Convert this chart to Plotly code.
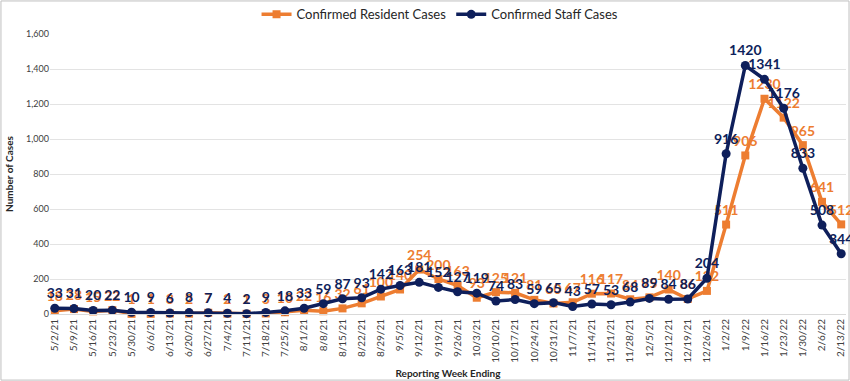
import plotly.graph_objects as go

weeks = ["5/2/21","5/9/21","5/16/21","5/23/21","5/30/21","6/6/21","6/13/21","6/20/21","6/27/21",
         "7/4/21","7/11/21","7/18/21","7/25/21","8/1/21","8/8/21","8/15/21","8/22/21","8/29/21",
         "9/5/21","9/12/21","9/19/21","9/26/21","10/3/21","10/10/21","10/17/21","10/24/21","10/31/21",
         "11/7/21","11/14/21","11/21/21","11/28/21","12/5/21","12/12/21","12/19/21","12/26/21",
         "1/2/22","1/9/22","1/16/22","1/23/22","1/30/22","2/6/22","2/13/22"]

resident_cases = [18, 28, 15, 22, 1, 1, 3, 2, 7, 2, 1, 3, 10, 22, 16, 32, 61, 100,
                  140, 254, 200, 163, 93, 125, 121, 81, 60, 67, 116, 117, 84, 95, 140, 86, 132,
                  511, 906, 1230, 1122, 965, 641, 512]

staff_cases = [33, 31, 20, 22, 10, 9, 6, 8, 7, 4, 2, 9, 18, 33, 59, 87, 93, 142,
               163, 181, 152, 127, 119, 74, 83, 59, 65, 43, 57, 53, 68, 89, 84, 86, 204,
               916, 1420, 1341, 1176, 833, 508, 344]

ORANGE = "#ED7D31"
NAVY = "#0E1F5B"
FONT = "Lato, 'Open Sans', sans-serif"

x_idx = list(range(len(weeks)))

fig = go.Figure()
fig.add_trace(go.Scatter(
    x=x_idx, y=resident_cases, name="Confirmed Resident Cases",
    mode="lines+markers+text",
    line=dict(color=ORANGE, width=3.5),
    marker=dict(symbol="square", size=8, color=ORANGE),
    text=[str(v) for v in resident_cases], textposition="top center",
    textfont=dict(color=ORANGE, size=14, family=FONT, weight="bold"),
    cliponaxis=False,
))
fig.add_trace(go.Scatter(
    x=x_idx, y=staff_cases, name="Confirmed Staff Cases",
    mode="lines+markers+text",
    line=dict(color=NAVY, width=3.5),
    marker=dict(symbol="circle", size=9, color=NAVY),
    text=[str(v) for v in staff_cases], textposition="top center",
    textfont=dict(color=NAVY, size=14, family=FONT, weight="bold"),
    cliponaxis=False,
))

fig.update_layout(
    width=850, height=381,
    margin=dict(l=50, r=4, t=34, b=67, autoexpand=False),
    paper_bgcolor="white", plot_bgcolor="white",
    font=dict(family=FONT, color="#404040"),
    showlegend=True,
    legend=dict(orientation="h", x=0.49, xanchor="center", y=1.07, yanchor="middle",
                font=dict(size=13, color="#262626"), itemwidth=30, bgcolor="rgba(0,0,0,0)"),
    xaxis=dict(
        tickmode="array", tickvals=x_idx, ticktext=weeks, tickangle=-90,
        tickfont=dict(size=10, color="#404040"),
        range=[-0.25, 41.25], showgrid=False, zeroline=False,
        showline=True, linecolor="#D9D9D9", linewidth=1,
        title=dict(text="<b>Reporting Week Ending</b>", font=dict(size=10, color="#262626"), standoff=8),
    ),
    yaxis=dict(
        range=[0, 1600], dtick=200, tickformat=",d",
        tickfont=dict(size=9, color="#404040"),
        showgrid=True, gridcolor="#E3E3E3", gridwidth=1, zeroline=False,
        title=dict(text="<b>Number of Cases</b>", font=dict(size=10, color="#262626"), standoff=10),
    ),
    shapes=[dict(type="rect", xref="paper", yref="paper",
                 x0=-0.0616, x1=1.0038, y0=-0.236, y1=1.118,
                 line=dict(color="#BFBFBF", width=1), fillcolor="rgba(0,0,0,0)", layer="below")],
)

fig.write_html("out.html", config={"displayModeBar": False},
               post_script="document.body.style.margin='0';document.body.style.overflow='hidden';")
